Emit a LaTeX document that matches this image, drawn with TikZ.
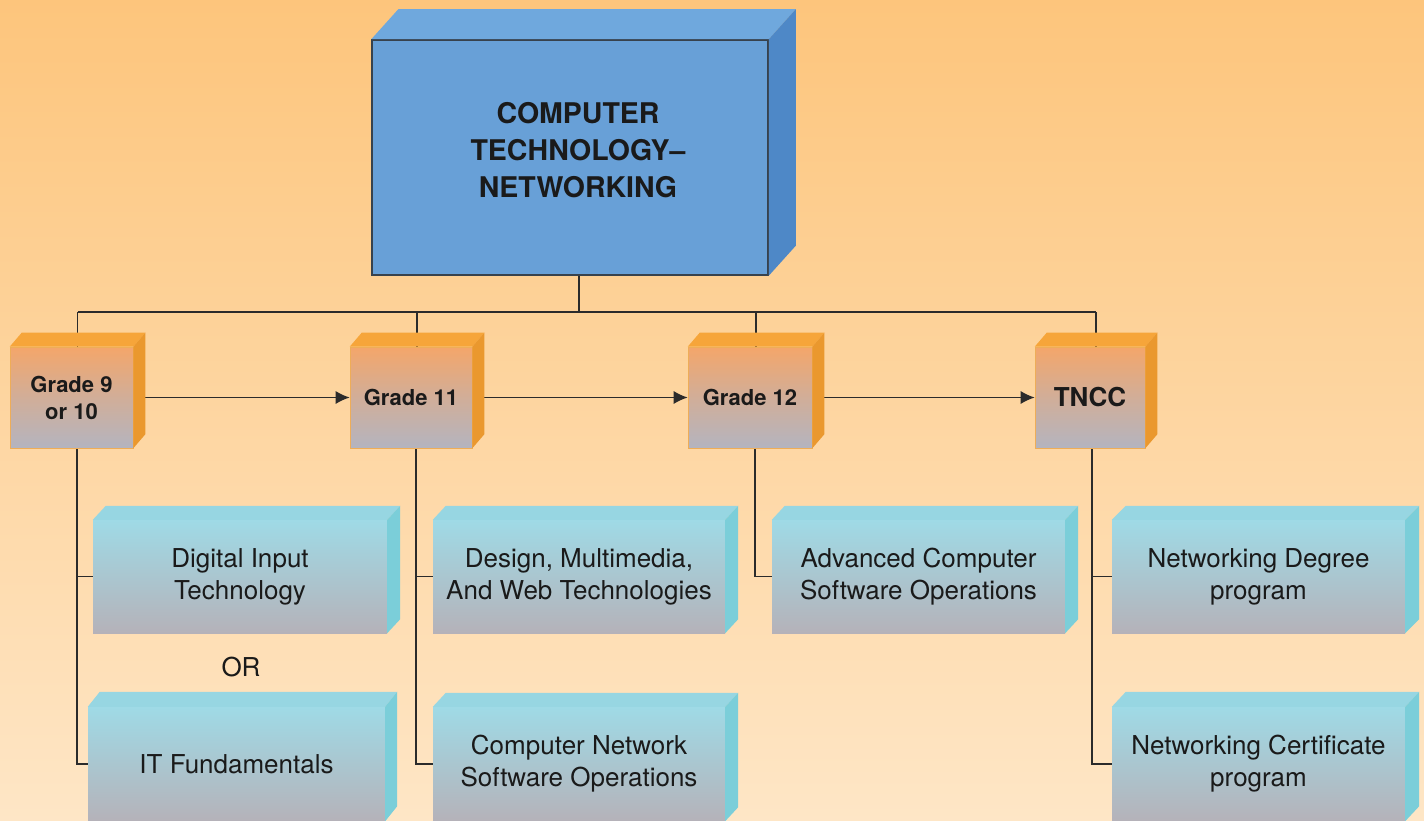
\documentclass[tikz,border=0pt]{standalone}
\usepackage{fontspec}
\setmainfont{TeX Gyre Heros}
\usetikzlibrary{arrows.meta,calc}
\pgfdeclarelayer{bg}
\pgfsetlayers{bg,main}
\definecolor{bgtop}{HTML}{FDC57C}
\definecolor{bgbot}{HTML}{FEE6C6}
\definecolor{rootfront}{HTML}{68A0D7}
\definecolor{roottop}{HTML}{6FA8DD}
\definecolor{rootside}{HTML}{4E88C7}
\definecolor{gradetop}{HTML}{F4A66A}
\definecolor{gradebot}{HTML}{B4B4BF}
\definecolor{gradetopface}{HTML}{F6A53A}
\definecolor{gradeside}{HTML}{EA982E}
\definecolor{cyantop}{HTML}{9FDAE6}
\definecolor{cyanbot}{HTML}{B5B2B9}
\definecolor{cyantopface}{HTML}{97D6E2}
\definecolor{cyanside}{HTML}{7BCED9}
\definecolor{linec}{HTML}{2B2B2B}
\definecolor{txt}{HTML}{1A1A1A}
\newcommand\myfaces[5]{%
  \fill[#4] (#1.north west) -- ++(#2,#3) -- ([shift={(#2,#3)}]#1.north east) -- (#1.north east) -- cycle;
  \fill[#5] (#1.north east) -- ++(#2,#3) -- ([shift={(#2,#3)}]#1.south east) -- (#1.south east) -- cycle;
}
\tikzset{
  conn/.style={draw=linec, line width=1.3pt},
  arr/.style={conn, -{Latex[length=14pt,width=13pt]}},
  gradebox/.style={inner sep=0pt, top color=gradetop, bottom color=gradebot, middle color=gradetop!45!gradebot,
    draw=gradeside!80!white, line width=0.6pt, text=txt, font=\bfseries\fontsize{22}{27}\selectfont, align=center, minimum height=101pt},
  cyanbox/.style={inner sep=0pt, top color=cyantop, bottom color=cyanbot, middle color=cyantop!50!cyanbot,
    text=txt, font=\fontsize{26}{32}\selectfont, align=center, minimum width=294pt},
}
\begin{document}
\begin{tikzpicture}[x=1pt,y=-1pt]
\useasboundingbox (0,0) rectangle (1424,821);
\begin{pgfonlayer}{bg}
\fill[top color=bgtop, bottom color=bgbot] (0,0) rectangle (1424,821);
\end{pgfonlayer}
% root
\node[inner sep=0pt, minimum width=396pt, minimum height=235pt, fill=rootfront, draw=linec!80!rootfront, line width=1.5pt] (root) at (570,157.5) {};
\myfaces{root}{27}{-30}{roottop}{rootside}
\node[font=\bfseries\fontsize{28.5}{37}\selectfont, text=txt, align=center] (roott) at (578,150) {COMPUTER\\TECHNOLOGY--\\NETWORKING};
% grade boxes
\node[gradebox, minimum width=123pt] (g9) at (71.5,397.5) {Grade 9\\or 10};
\myfaces{g9}{12}{-14}{gradetopface}{gradeside}
\node[gradebox, minimum width=122pt] (g11) at (411,397.5) {Grade 11};
\myfaces{g11}{12}{-14}{gradetopface}{gradeside}
\node[gradebox, minimum width=124pt] (g12) at (750,397.5) {Grade 12};
\myfaces{g12}{12}{-14}{gradetopface}{gradeside}
\node[gradebox, minimum width=110pt, font=\bfseries\fontsize{26}{30}\selectfont] (tncc) at (1090,397.5) {TNCC};
\myfaces{tncc}{12}{-14}{gradetopface}{gradeside}
% cyan boxes
\node[cyanbox, minimum height=113pt] (dig) at (240,576.5) {Digital Input\\Technology};
\myfaces{dig}{13}{-14}{cyantopface}{cyanside}
\node[cyanbox, minimum height=114pt, minimum width=297pt] (itf) at (236.5,764) {IT Fundamentals};
\myfaces{itf}{12}{-15}{cyantopface}{cyanside}
\node[cyanbox, minimum height=113pt, minimum width=292pt] (des) at (579,576.5) {Design, Multimedia,\\And Web Technologies};
\myfaces{des}{13}{-14}{cyantopface}{cyanside}
\node[cyanbox, minimum height=114pt, minimum width=292pt] (cns) at (579,764) {Computer Network\\Software Operations};
\myfaces{cns}{13}{-14}{cyantopface}{cyanside}
\node[cyanbox, minimum height=113pt, minimum width=293pt] (adv) at (918.5,576.5) {Advanced Computer\\Software Operations};
\myfaces{adv}{13}{-14}{cyantopface}{cyanside}
\node[cyanbox, minimum height=113pt, minimum width=293pt] (ndeg) at (1258.5,576.5) {Networking Degree\\program};
\myfaces{ndeg}{14}{-14}{cyantopface}{cyanside}
\node[cyanbox, minimum height=114pt, minimum width=293pt] (ncert) at (1258.5,764) {Networking Certificate\\program};
\myfaces{ncert}{14}{-15}{cyantopface}{cyanside}
\node[font=\fontsize{26}{30}\selectfont, text=txt] (or) at (241,667) {OR};
% connectors
\begin{pgfonlayer}{bg}
\coordinate (bus) at (579,312);
\draw[conn] (bus |- root.south) -- (bus);
\draw[conn] ([xshift=6pt]g9.north |- bus) -- ([xshift=6pt]tncc.north |- bus);
\foreach \n in {g9,g11,g12,tncc} {
  \draw[conn] ([xshift=6pt]\n.north |- bus) -- ([xshift=6pt]\n.north);
}
\draw[arr] ([xshift=7pt]g9.east) -- (g11.west);
\draw[arr] ([xshift=7pt]g11.east) -- (g12.west);
\draw[arr] ([xshift=7pt]g12.east) -- (tncc.west);
\draw[conn] ([xshift=5.5pt]g9.south) |- (dig.west);
\draw[conn] ([xshift=5.5pt]g9.south) |- (itf.west);
\draw[conn] ([xshift=5pt]g11.south) |- (des.west);
\draw[conn] ([xshift=5pt]g11.south) |- (cns.west);
\draw[conn] ([xshift=5pt]g12.south) |- (adv.west);
\draw[conn] ([xshift=2pt]tncc.south) |- (ndeg.west);
\draw[conn] ([xshift=2pt]tncc.south) |- (ncert.west);
\end{pgfonlayer}
\end{tikzpicture}
\end{document}
